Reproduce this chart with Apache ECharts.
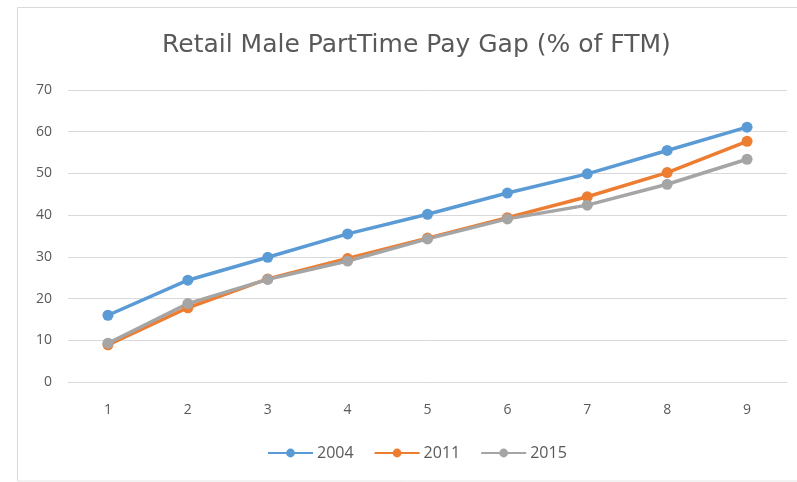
<!DOCTYPE html>
<html><head><meta charset="utf-8">
<script src="https://cdn.jsdelivr.net/npm/echarts@6/dist/echarts.min.js"></script>
<style>html,body{margin:0;padding:0;background:#fff}#c{width:797px;height:482px}</style>
</head><body><div id="c"></div>
<script>
var categories = ['1','2','3','4','5','6','7','8','9'];
var s2004 = [16.0, 24.4, 29.9, 35.5, 40.2, 45.3, 49.9, 55.5, 61.1];
var s2011 = [8.9, 17.8, 24.7, 29.6, 34.5, 39.4, 44.4, 50.2, 57.7];
var s2015 = [9.3, 18.8, 24.6, 29.0, 34.3, 39.1, 42.4, 47.4, 53.4];
var seriesNames = ['2004','2011','2015'];
var colors = ['#5B9BD5','#ED7D31','#A5A5A5'];
var chart = echarts.init(document.getElementById('c'));
function mk(name, data, color){
  return {name:name,type:'line',data:data,symbol:'circle',symbolSize:11,
    lineStyle:{width:3.5,color:color},itemStyle:{color:color},z: 3};
}
chart.setOption({
  animation:false,
  title:{text:'Retail Male PartTime Pay Gap (% of FTM)',left:157,top:28,
    textStyle:{fontFamily:'DejaVu Sans',fontSize:25,fontWeight:'normal',color:'#595959'}},
  grid:{left:68,right:10,top:90,bottom:100},
  legend:{data:seriesNames,top:440,left:262,itemWidth:45,itemHeight:11,itemGap:20,
    textStyle:{fontFamily:'Open Sans',fontSize:16,color:'#595959',padding:[0,0,0,-1]}},
  xAxis:{type:'category',data:categories,boundaryGap:true,
    axisLine:{lineStyle:{color:'#D9D9D9'}},axisTick:{show:false},
    axisLabel:{fontFamily:'Open Sans',fontSize:14,color:'#595959',margin:21}},
  yAxis:{type:'value',min:0,max:70,interval:10,
    axisLine:{show:false},axisTick:{show:false},
    splitLine:{lineStyle:{color:'#D9D9D9'}},
    axisLabel:{fontFamily:'Open Sans',fontSize:14,color:'#595959',margin:16}},
  graphic:[
    {type:'line',shape:{x1:17.5,y1:7.5,x2:797,y2:7.5},style:{stroke:'#D9D9D9',lineWidth:1}},
    {type:'line',shape:{x1:17.5,y1:7.5,x2:17.5,y2:481},style:{stroke:'#D9D9D9',lineWidth:1}},
    {type:'line',shape:{x1:17.5,y1:481,x2:797,y2:481},style:{stroke:'#E6E6E6',lineWidth:1}}
  ],
  series:[mk(seriesNames[0],s2004,colors[0]),mk(seriesNames[1],s2011,colors[1]),mk(seriesNames[2],s2015,colors[2])]
});
</script></body></html>
